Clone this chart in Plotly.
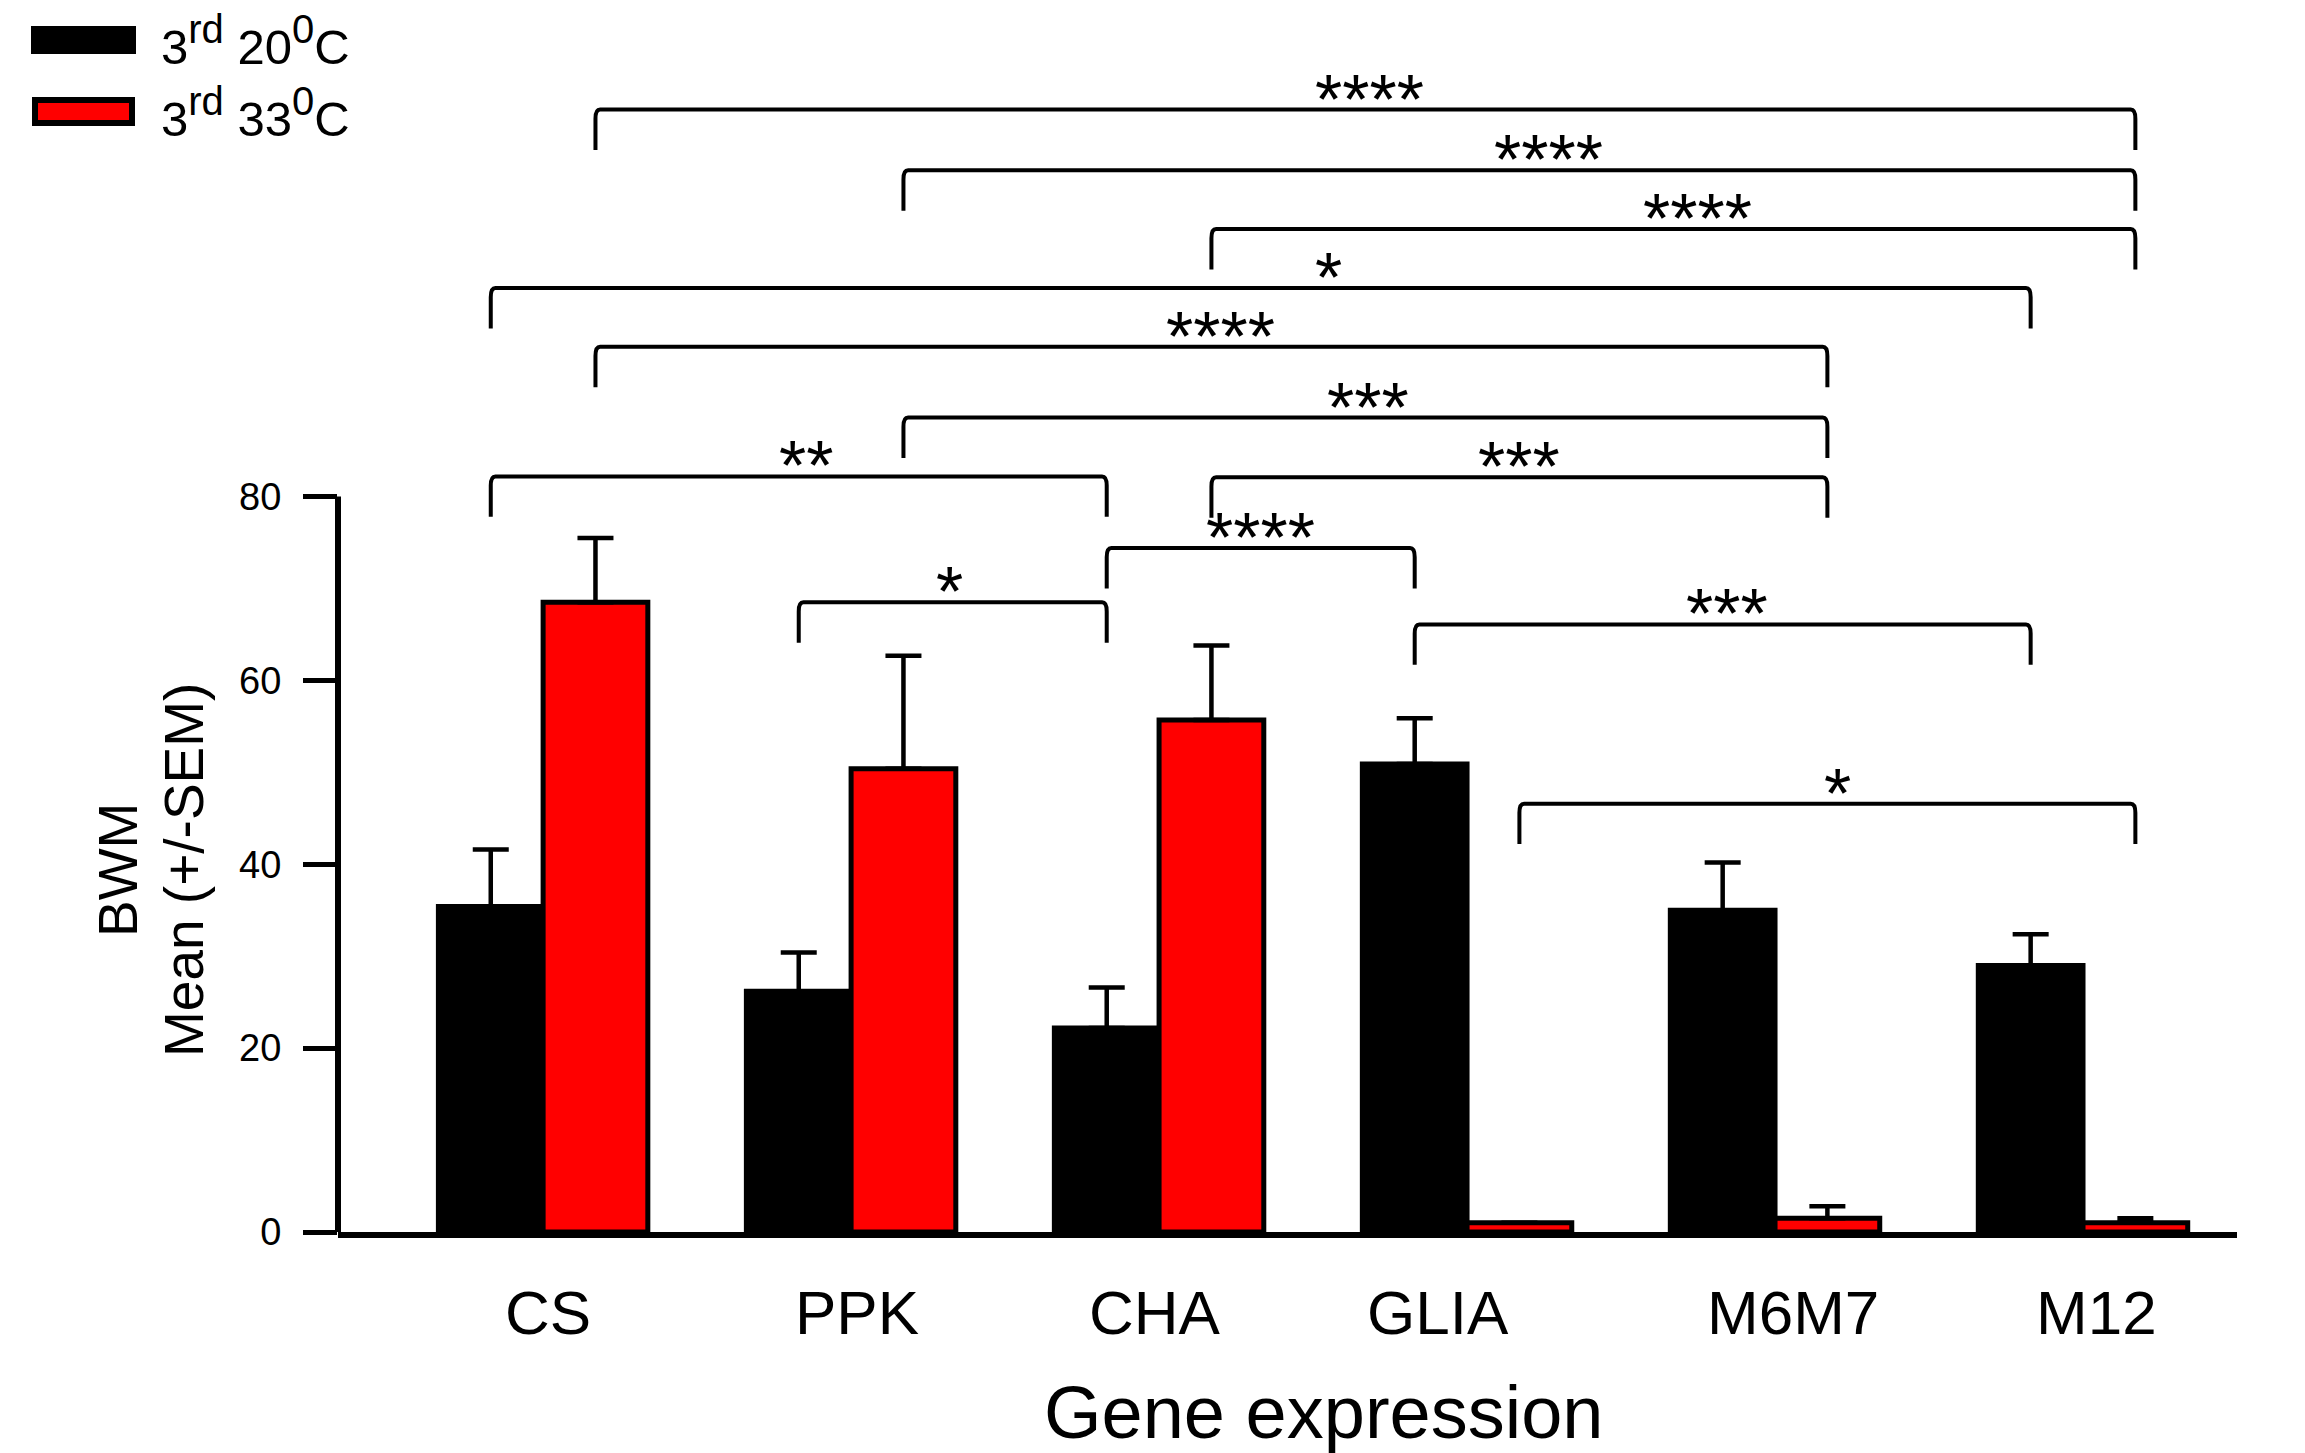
import plotly.graph_objects as go

# ---------------- data ----------------
categories = ["CS", "PPK", "CHA", "GLIA", "M6M7", "M12"]
series_names = ["3<sup><span style='font-size:40px'>rd</span></sup> 20<sup><span style='font-size:40px'>0</span></sup>C",
                "3<sup><span style='font-size:40px'>rd</span></sup> 33<sup><span style='font-size:40px'>0</span></sup>C"]
mean_20 = [35.4, 26.2, 22.2, 50.9, 35.0, 29.0]
sem_20 = [6.2, 4.2, 4.4, 5.0, 5.2, 3.4]
mean_33 = [68.5, 50.4, 55.7, 1.0, 1.5, 1.0]
sem_33 = [7.0, 12.3, 8.1, 0.0, 1.3, 0.5]
y_ticks = [0, 20, 40, 60, 80]

# significance brackets (series 0 = 20C, 1 = 33C)
bracket_start_group = ["CS", "PPK", "CHA", "CS", "CS", "PPK", "CHA", "CS", "CHA", "PPK", "GLIA", "GLIA"]
bracket_start_series = [1, 1, 1, 0, 1, 1, 1, 0, 0, 0, 0, 1]
bracket_end_group = ["M12", "M12", "M12", "M12", "M6M7", "M6M7", "M6M7", "CHA", "GLIA", "CHA", "M12", "M12"]
bracket_end_series = [1, 1, 1, 0, 1, 1, 1, 0, 0, 0, 0, 1]
bracket_level = [122.1, 115.5, 109.1, 102.7, 96.3, 88.6, 82.1, 82.2, 74.4, 68.5, 66.1, 46.6]
bracket_label = ["****", "****", "****", "*", "****", "***", "***", "**", "****", "*", "***", "*"]

# ---------------- layout constants ----------------
W, H = 2305, 1453
L, R, T, B = 338, 68, 37, 221
PW, PH = W - L - R, H - T - B
FONT = "Liberation Sans, Arial, sans-serif"
BARGAP = 0.32
BAR_W = (1 - BARGAP) / 2
DROP = 4.4
label_xshift = [4, 29, 24, 68, 9, 3, 0, 7, 0, -3, 4, 10]
xlabel_xshift = [5, 6, -4, -29, 18, 13]


def px_x(px):
    return (px - L) / PW


def px_y(py):
    return (H - B - py) / PH


x_idx = list(range(len(categories)))

fig = go.Figure()
fig.add_trace(go.Bar(
    x=x_idx, y=mean_20, name="3rd 20C", offsetgroup="a",
    marker=dict(color="black", line=dict(color="black", width=5)),
    error_y=dict(type="data", symmetric=False, array=sem_20, arrayminus=[0] * len(sem_20),
                 color="black", thickness=4.5, width=18),
))
fig.add_trace(go.Bar(
    x=x_idx, y=mean_33, name="3rd 33C", offsetgroup="b",
    marker=dict(color="#ff0000", line=dict(color="black", width=5)),
    error_y=dict(type="data", symmetric=False, array=sem_33, arrayminus=[0] * len(sem_33),
                 color="black", thickness=4.5, width=18),
))

shapes = []
annotations = []

# y axis line (only up to 80)
shapes.append(dict(type="line", xref="paper", yref="y", x0=0, x1=0, y0=0, y1=max(y_ticks),
                   line=dict(color="black", width=6)))


def bar_center(group, series):
    i = categories.index(group)
    return i + (series - 0.5) * BAR_W


# brackets
for k in range(len(bracket_level)):
    x0 = bar_center(bracket_start_group[k], bracket_start_series[k])
    x1 = bar_center(bracket_end_group[k], bracket_end_series[k])
    yt = bracket_level[k]
    yb = yt - DROP
    dx = 0.015
    c = 1.0
    path = (f"M {x0},{yb} L {x0},{yt - c} Q {x0},{yt} {x0 + dx},{yt} "
            f"L {x1 - dx},{yt} Q {x1},{yt} {x1},{yt - c} L {x1},{yb}")
    shapes.append(dict(type="path", xref="x", yref="y", path=path,
                       line=dict(color="black", width=4)))
    annotations.append(dict(x=(x0 + x1) / 2, y=yt, xref="x", yref="y", text=bracket_label[k],
                            showarrow=False, xanchor="center", yanchor="middle",
                            xshift=label_xshift[k], yshift=10,
                            font=dict(family=FONT, size=70, color="black")))

# x category labels
for i, cat in enumerate(categories):
    annotations.append(dict(x=i, y=px_y(1312), xref="x", yref="paper", text=cat, showarrow=False,
                            xanchor="center", yanchor="middle", xshift=xlabel_xshift[i],
                            font=dict(family=FONT, size=62, color="black")))

# axis titles
annotations.append(dict(x=px_x(1323), y=px_y(1412), xref="paper", yref="paper",
                        text="Gene expression", showarrow=False, xanchor="center", yanchor="middle",
                        font=dict(family=FONT, size=74, color="black")))
annotations.append(dict(x=px_x(118), y=px_y(870), xref="paper", yref="paper", text="BWM",
                        textangle=-90, showarrow=False, xanchor="center", yanchor="middle",
                        font=dict(family=FONT, size=55, color="black")))
annotations.append(dict(x=px_x(184), y=px_y(870), xref="paper", yref="paper", text="Mean (+/-SEM)",
                        textangle=-90, showarrow=False, xanchor="center", yanchor="middle",
                        font=dict(family=FONT, size=55, color="black")))

# manual legend
shapes.append(dict(type="rect", xref="paper", yref="paper",
                   x0=px_x(32), x1=px_x(135), y0=px_y(53), y1=px_y(27),
                   fillcolor="black", line=dict(color="black", width=2)))
shapes.append(dict(type="rect", xref="paper", yref="paper",
                   x0=px_x(35), x1=px_x(132), y0=px_y(123), y1=px_y(100),
                   fillcolor="#ff0000", line=dict(color="black", width=6)))
annotations.append(dict(x=px_x(159), y=px_y(40), xref="paper", yref="paper", text=series_names[0],
                        showarrow=False, xanchor="left", yanchor="middle",
                        font=dict(family=FONT, size=49, color="black")))
annotations.append(dict(x=px_x(159), y=px_y(112), xref="paper", yref="paper", text=series_names[1],
                        showarrow=False, xanchor="left", yanchor="middle",
                        font=dict(family=FONT, size=49, color="black")))

fig.update_layout(
    width=W, height=H,
    margin=dict(l=L, r=R, t=T, b=B, pad=0),
    paper_bgcolor="white", plot_bgcolor="white",
    barmode="group", bargap=BARGAP, bargroupgap=0,
    showlegend=False,
    shapes=shapes, annotations=annotations,
    xaxis=dict(range=[-0.666, 5.5], showline=True, linewidth=6, linecolor="black",
               showticklabels=False, ticks="", showgrid=False, zeroline=False),
    yaxis=dict(range=[0, 130], tickvals=y_ticks, ticks="outside", ticklen=34, tickwidth=5,
               tickcolor="black", showgrid=False, zeroline=False, showline=False,
               ticklabelstandoff=14,
               tickfont=dict(family=FONT, size=38, color="black")),
)

fig.write_html("out.html")
